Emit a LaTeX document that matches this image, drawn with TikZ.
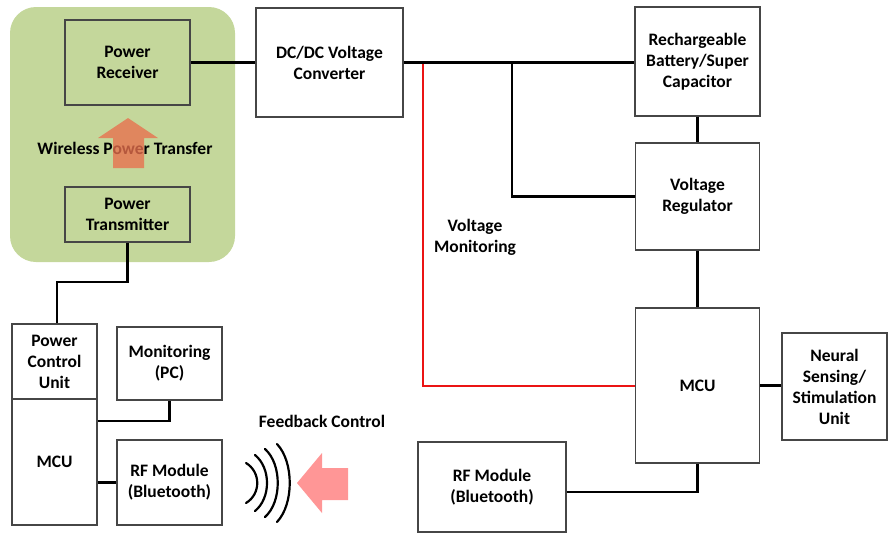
\documentclass[tikz,border=0pt]{standalone}
\usepackage{fontspec}
\setmainfont{Carlito}
\definecolor{wgreen}{RGB}{196,215,155}
\definecolor{boxgray}{RGB}{70,70,70}
\definecolor{vred}{RGB}{235,20,20}
\definecolor{aorange}{RGB}{232,112,78}
\definecolor{apink}{RGB}{255,150,150}
\begin{document}
\begin{tikzpicture}[x=1pt,y=-1pt,
  box/.style={draw=boxgray, line width=1.4pt, align=center, inner sep=0pt, font=\fontsize{17.5}{21}\selectfont\bfseries},
  conn/.style={line width=2.4pt, black},
  redline/.style={line width=2pt, draw=vred},
  lbl/.style={align=center, inner sep=0pt, font=\fontsize{17.5}{21}\selectfont\bfseries},
  wave/.style={line width=2.2pt, line cap=round, black}]
\useasboundingbox (0,0) rectangle (888,533);
% green area
\node[fill=wgreen, rounded corners=26pt, minimum width=225pt, minimum height=255pt, inner sep=0pt] (wpt) at (122.5,134.5) {};
% boxes
\node[box, minimum width=125pt, minimum height=85pt] (PR) at (127.5,62.5) {Power\\Receiver};
\node[box, minimum width=125pt, minimum height=55pt] (PT) at (127.5,214.5) {Power\\Transmitter};
\node[box, minimum width=147pt, minimum height=109pt] (DC) at (329.5,62.5) {DC/DC Voltage\\Converter};
\node[box, minimum width=125pt, minimum height=109pt] (BAT) at (697.5,61.5) {Rechargeable\\Battery/Super\\Capacitor};
\node[box, minimum width=124pt, minimum height=107pt] (VR) at (697.5,196.5) {Voltage\\Regulator};
\node[box, minimum width=124pt, minimum height=155pt] (MCUR) at (697.5,385.5) {MCU};
\node[box, minimum width=105pt, minimum height=107pt] (NEU) at (834.5,386.5) {Neural\\Sensing/\\Stimulation\\Unit};
\node[box, minimum width=148pt, minimum height=90pt] (RFR) at (492,487) {RF Module\\(Bluetooth)};
\node[box, minimum width=85pt, minimum height=75pt] (PCU) at (54.5,361.5) {Power\\Control\\Unit};
\node[box, minimum width=85pt, minimum height=126pt] (MCUL) at (54.5,462) {MCU};
\node[box, minimum width=105pt, minimum height=73pt] (MON) at (169.5,363.5) {Monitoring\\(PC)};
\node[box, minimum width=105pt, minimum height=85pt] (RFL) at (169.5,482.5) {RF Module\\(Bluetooth)};
% labels
\node[lbl] (wptl) at (125,148) {Wireless Power Transfer};
\node[lbl] (vml) at (475,237) {Voltage\\Monitoring};
\node[lbl] (fbl) at (322,421) {Feedback Control};
% orange arrow (over the label, semi transparent)
\fill[aorange, opacity=0.78] (128,118) -- (158,138) -- (144,138) -- (144,168) -- (113,168) -- (113,138) -- (98,138) -- cycle;
% pink arrow
\fill[apink] (297,483) -- (322,453) -- (322,468) -- (348,468) -- (348,500) -- (322,500) -- (322,513) -- cycle;
% waves
\draw[wave] (246,463) .. controls (261,472) and (261,494) .. (246,503);
\draw[wave] (255,455) .. controls (271,468) and (271,498) .. (255,511);
\draw[wave] (265,449) .. controls (282,464) and (282,502) .. (265,517);
\draw[wave] (277,444) .. controls (294,462) and (294,504) .. (277,522);
% connectors
\coordinate (j2) at (423,62.5);
\draw[redline] (j2) |- (MCUR.west);
\draw[conn] (PR.east) -- (DC.west);
\draw[conn] (DC.east) -- (DC.east -| BAT.west);
\coordinate (j1) at (512,62.5);
\draw[conn] (j1) |- (VR.west);
\draw[conn] (BAT.south) -- (VR.north);
\draw[conn] (VR.south) -- (MCUR.north);
\draw[conn] (MCUR.east) -- (MCUR.east -| NEU.west);
\draw[conn] ([yshift=-5pt]RFR.east) -| (MCUR.south);
\coordinate (k1) at (127.5,282);
\draw[conn] (PT.south) -- (k1) -| ([xshift=2.5pt]PCU.north);
\draw[conn] ([yshift=41pt]MCUL.east) -| (MON.south);
\draw[conn] (RFL.west -| MCUL.east) -- (RFL.west);
\end{tikzpicture}
\end{document}
